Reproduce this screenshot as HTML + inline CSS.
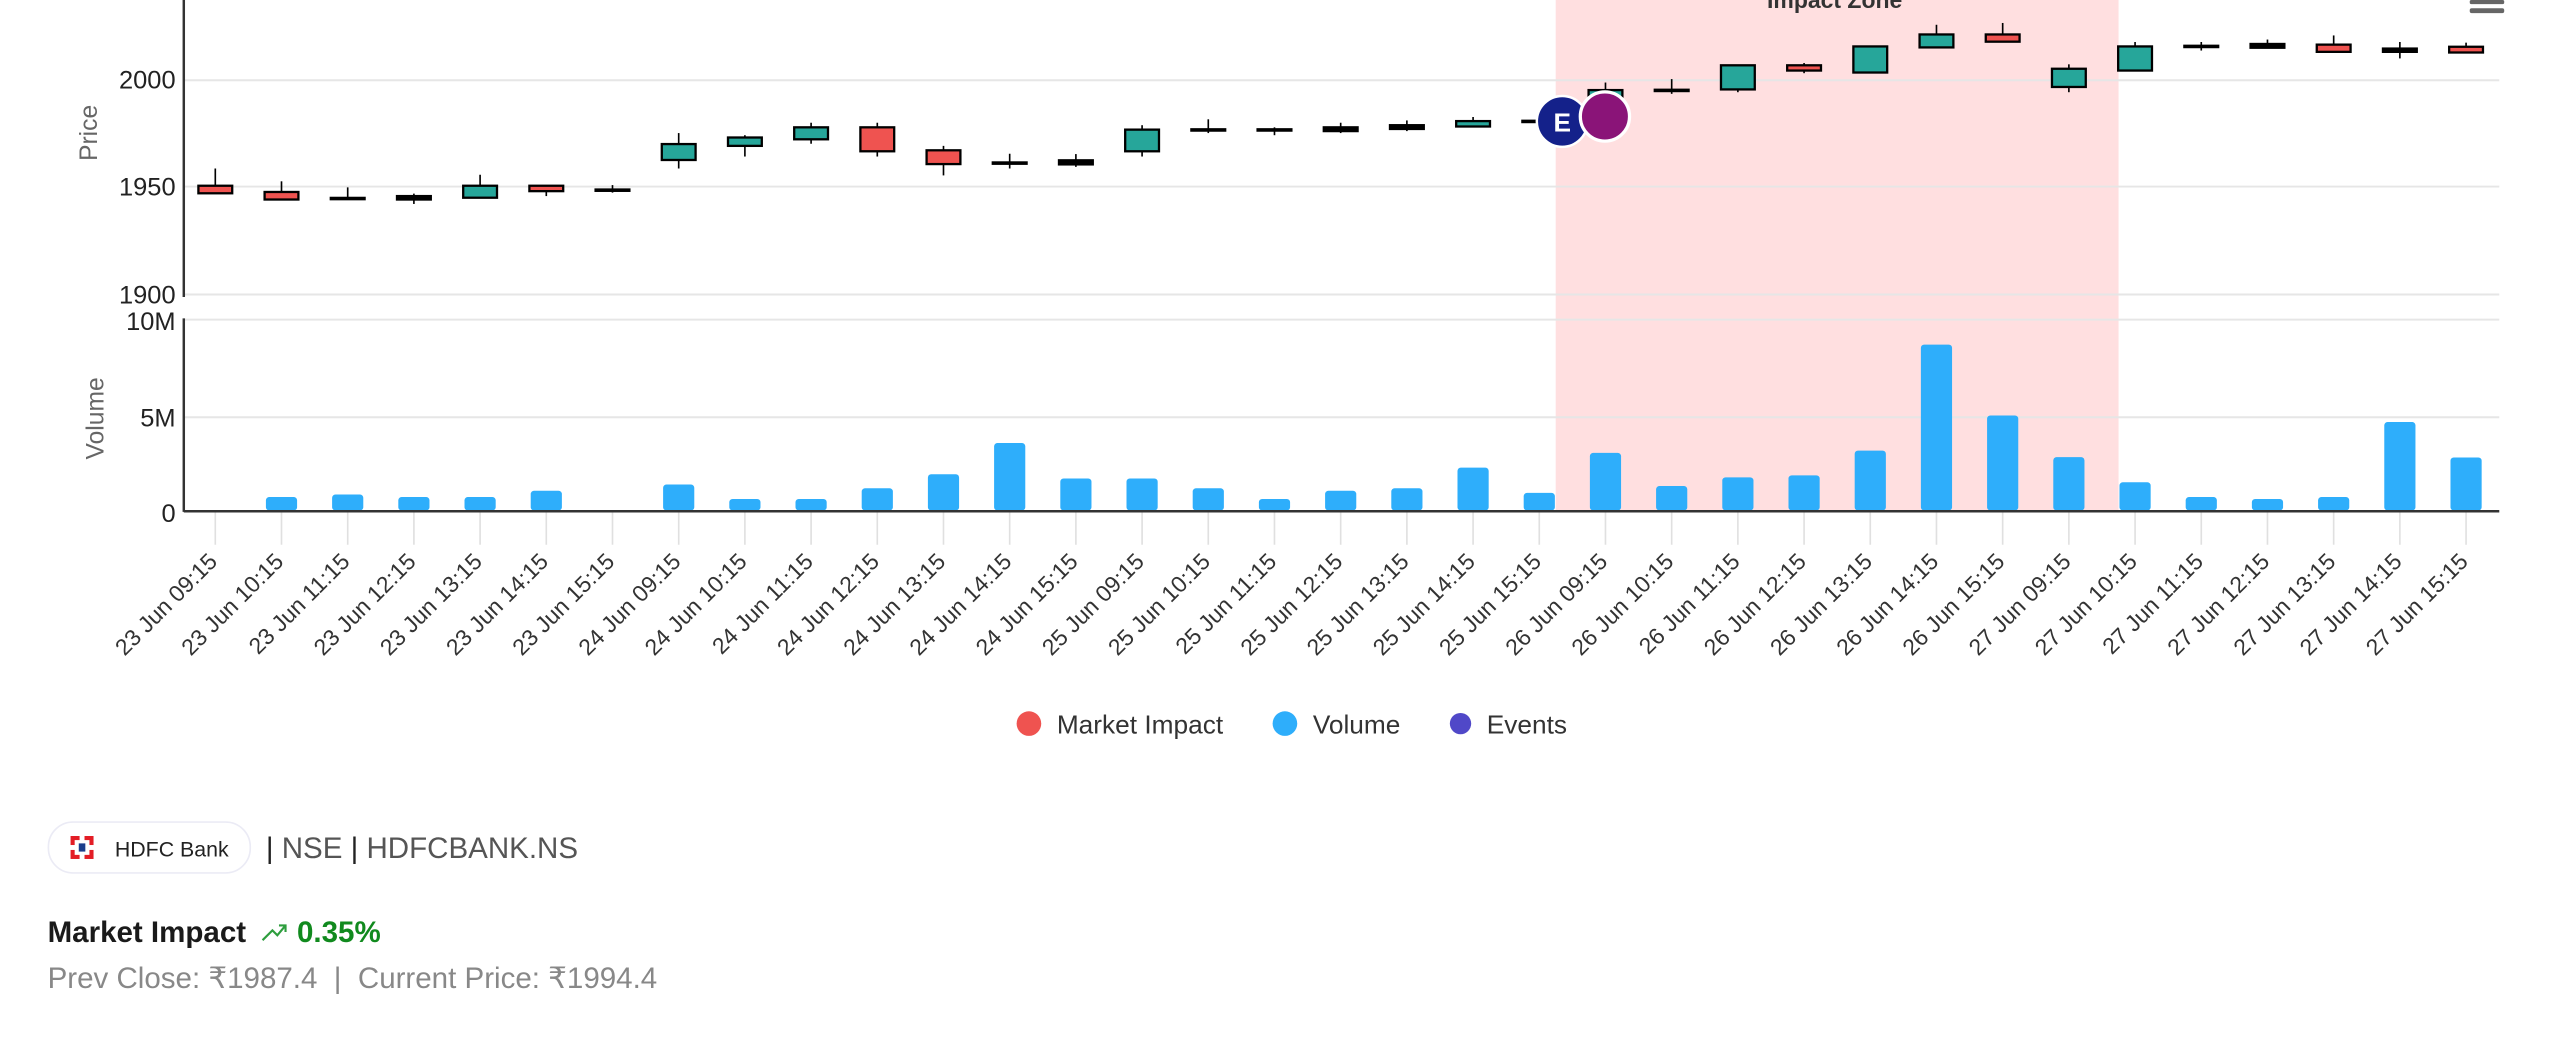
<!DOCTYPE html>
<html><head><meta charset="utf-8"><style>
html,body{margin:0;padding:0;background:#fff;width:2560px;height:1037px;overflow:hidden}
svg{display:block}
text{font-family:"Liberation Sans",Arial,sans-serif}
</style></head><body>
<svg id="s" width="2560" height="1037" viewBox="0 0 1560 632" preserveAspectRatio="none" xmlns="http://www.w3.org/2000/svg">
<rect x="948" y="0" width="343" height="311" fill="#ffdfe0"/>
<g stroke="#e6e6e6" stroke-width="1.2">
<line x1="112" x2="1523" y1="48.9" y2="48.9"/>
<line x1="112" x2="1523" y1="113.7" y2="113.7"/>
<line x1="112" x2="1523" y1="179.5" y2="179.5"/>
<line x1="112" x2="1523" y1="194.8" y2="194.8"/>
<line x1="112" x2="1523" y1="254.3" y2="254.3"/>
</g>
<text x="1118" y="5" font-size="14" font-weight="bold" fill="#333" text-anchor="middle">Impact Zone</text>
<g fill="#666"><rect x="1505" y="0" width="21" height="2.5" rx="1"/><rect x="1505" y="5" width="21" height="3" rx="1.2"/></g>
<g id="ticks" stroke="#e0e0e0" stroke-width="1"></g>
<g id="vol" fill="#2eaefb"></g>
<g id="cdl"></g>
<line x1="112" x2="112" y1="0" y2="181" stroke="#333" stroke-width="1.5"/>
<line x1="112" x2="112" y1="194" y2="312" stroke="#333" stroke-width="1.5"/>
<line x1="112" x2="1523" y1="311.6" y2="311.6" stroke="#333" stroke-width="1.5"/>
<g font-size="15.5" fill="#222" text-anchor="end">
<text x="107" y="54">2000</text><text x="107" y="119">1950</text><text x="107" y="185">1900</text>
<text x="107" y="201">10M</text><text x="107" y="260">5M</text><text x="107" y="318">0</text>
</g>
<text transform="translate(59,81) rotate(-90)" font-size="15" fill="#666" text-anchor="middle">Price</text>
<text transform="translate(63,255) rotate(-90)" font-size="15" fill="#666" text-anchor="middle">Volume</text>
<g id="lbl" font-size="14" fill="#333" text-anchor="end"></g>
<circle cx="952" cy="74" r="15.5" fill="#14218a" stroke="#fff" stroke-width="1.5"/>
<text x="952" y="80" font-size="16" font-weight="bold" fill="#fff" text-anchor="middle">E</text>
<circle cx="978" cy="71" r="15" fill="#8a1478" stroke="#fff" stroke-width="2"/>
<circle cx="627" cy="441" r="7.5" fill="#ef5350"/><text x="644" y="447" font-size="16" fill="#333">Market Impact</text>
<circle cx="783" cy="441" r="7.5" fill="#2eaefb"/><text x="800" y="447" font-size="16" fill="#333">Volume</text>
<circle cx="890" cy="441" r="6.5" fill="#5048c8"/><text x="906" y="447" font-size="16" fill="#333">Events</text>
<rect x="29.5" y="501" width="123" height="31" rx="15" fill="#fff" stroke="#ebebf5" stroke-width="1"/>
<rect x="43" y="509.5" width="14" height="14" fill="#e31d25"/>
<rect x="45.5" y="512" width="9" height="9" fill="#fff"/>
<rect x="42" y="515" width="16" height="3" fill="#fff"/><rect x="48.5" y="508" width="3" height="17" fill="#fff"/>
<rect x="48" y="514" width="4" height="5" fill="#1b3e8c"/>
<text x="70" y="522" font-size="13" fill="#222">HDFC Bank</text>
<text x="162" y="523" font-size="18" fill="#555"><tspan fill="#222">|</tspan> NSE <tspan fill="#222">|</tspan> HDFCBANK.NS</text>
<text x="29" y="574" font-size="18" font-weight="bold" fill="#1a1a1a">Market Impact</text>
<path d="M160 573 L166 567 L169 570 L174 564 M170 564 L174 564 L174 568" stroke="#2e9e3e" stroke-width="1.3" fill="none"/>
<text x="181" y="574" font-size="18" font-weight="bold" fill="#118a1e">0.35%</text>
<text x="29" y="602" font-size="18" fill="#888">Prev Close: ₹1987.4 &#160;| &#160;Current Price: ₹1994.4</text>
</svg>
<script>
var NS="http://www.w3.org/2000/svg";
function el(p,t,a,txt){var e=document.createElementNS(NS,t);for(var k in a)e.setAttribute(k,a[k]);if(txt)e.textContent=txt;document.getElementById(p).appendChild(e);}
var C=[[113.2,117.8,102.7,117.8,'r'],[117,121.6,110.5,121.6,'r'],[120.6,121.3,114.2,121.3,'k'],[119.5,121.6,118,124.3,'k'],[113.2,120.5,106.5,120.5,'g'],[113.2,116.5,113.2,119.5,'r'],[115.5,116.3,112.8,117.4,'k'],
[87.8,97.5,81.1,102.7,'g'],[83.8,88.9,82.4,95.4,'g'],[77.6,84.9,74.8,87.6,'g'],[77.6,92.2,74.8,95.4,'r'],[91.6,100,88.9,106.9,'r'],[99,99.8,93.7,102.7,'k'],[97.7,100.2,93.9,101.7,'k'],
[79,92.2,76.3,95.4,'g'],[78.8,79.6,72.7,81.1,'k'],[78.8,79.6,77.6,82.4,'k'],[77.6,79.9,74.8,81.1,'k'],[76.3,78.6,73.4,79.9,'k'],[73.8,77.1,71.3,77.1,'g'],[73.6,74.4,72,76,'k'],
[54.9,69.2,50.3,69.2,'g'],[54.7,55.5,48.2,57.2,'k'],[39.8,54.5,39.8,56.2,'g'],[39.8,43,38.4,44.6,'r'],[28.3,44.2,28.3,44.2,'g'],[21,28.9,15.1,28.9,'g'],[21,25.4,14,25.4,'r'],
[41.9,53,39.2,56.2,'g'],[28.3,43,25.6,43,'g'],[27.9,28.7,25.6,30.8,'k'],[26.8,29.1,24.1,29.1,'k'],[27.2,31.6,21.6,31.6,'r'],[29.6,31.6,25.6,35.6,'k'],[28.5,32,26,32,'r']];
var V=[311.1,302.9,301.4,302.9,302.9,299.1,311.1,295.3,304.1,304.1,297.6,289,270,291.6,291.6,297.6,304.1,299.1,297.6,285,300.4,276,296.2,290.9,289.7,274.6,210,253.2,278.6,293.9,302.9,304.1,302.9,257.2,278.8];
var days=['23','24','25','26','27'],hrs=['09:15','10:15','11:15','12:15','13:15','14:15','15:15'];
var col={r:'#ef5350',g:'#26a69a',k:'#000'};
for(var i=0;i<35;i++){
 var x=131.2+i*40.34;
 el('ticks','line',{x1:x,x2:x,y1:312,y2:332});
 if(V[i]<310){el('vol','rect',{x:x-9.5,y:V[i],width:19,height:311.1-V[i],rx:2});}
 var c=C[i];
 el('cdl','line',{x1:x,x2:x,y1:c[2],y2:c[3],stroke:'#000','stroke-width':1});
 el('cdl','rect',{x:x-10.3,y:c[0],width:20.6,height:Math.max(c[1]-c[0],0.8),fill:col[c[4]],stroke:'#000','stroke-width':1.4});
 var d=days[Math.floor(i/7)],h=hrs[i%7];
 el('lbl','text',{transform:'translate('+(x+2)+',343) rotate(-45)'},d+' Jun '+h);
}
</script>
</body></html>
